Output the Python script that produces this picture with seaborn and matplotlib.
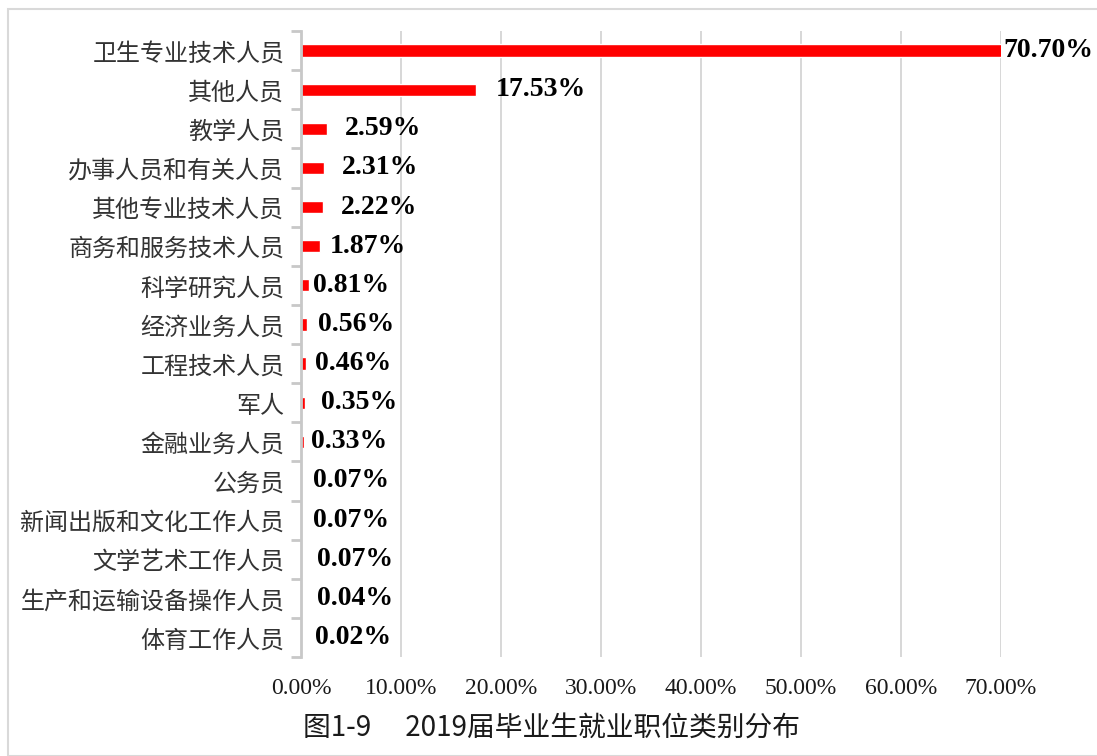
import matplotlib
matplotlib.use('Agg')
from matplotlib import pyplot as plt
from matplotlib.patches import Rectangle
import pandas as pd
import seaborn as sns

# data
categories = ['卫生专业技术人员', '其他人员', '教学人员', '办事人员和有关人员',
              '其他专业技术人员', '商务和服务技术人员', '科学研究人员', '经济业务人员',
              '工程技术人员', '军人', '金融业务人员', '公务员',
              '新闻出版和文化工作人员', '文学艺术工作人员', '生产和运输设备操作人员',
              '体育工作人员']
shares = [70.70, 17.53, 2.59, 2.31, 2.22, 1.87, 0.81, 0.56,
          0.46, 0.35, 0.33, 0.07, 0.07, 0.07, 0.04, 0.02]
xticks = [0, 10, 20, 30, 40, 50, 60, 70]
title = '图1-9\u3000 2019届毕业生就业职位类别分布'

# label nudges (pixels right of the bar end), as placed in the original
label_dx = [2, 19, 18, 17.5, 17.5, 10, 3.5, 11, 9, 16.5, 7, 11, 11, 15, 15.5, 14]

df = pd.DataFrame({'job': categories, 'share': shares})

sns.set_style('white')
plt.rcParams['font.family'] = ['Noto Sans CJK SC', 'DejaVu Sans']

fig = plt.figure(figsize=(10.97, 7.56), dpi=100)
ax = fig.add_axes([301 / 1097, 1 - 657 / 756, 700 / 1097, 626 / 756])

sns.barplot(data=df, x='share', y='job', orient='h', color='#ff0000',
            saturation=1, width=0.31, ax=ax)

ax.set_xlim(0, 70)
ax.set_ylim(len(categories) - 0.5, -0.5)
ax.set_xticks(xticks)
ax.set_xticklabels(['%.2f%%' % t for t in xticks], family='Liberation Serif',
                   fontsize=17, color='#1a1a1a')
ax.tick_params(axis='x', length=0, pad=15)
ax.xaxis.grid(True, color='#d4d4d4', lw=1.3)
ax.set_axisbelow(True)

# category labels at centres, tick marks at boundaries
ax.set_yticks(range(len(categories)))
ax.set_yticklabels(categories, fontsize=17.3, color='#333333')
ax.set_yticks([i - 0.5 for i in range(len(categories) + 1)], minor=True)
ax.tick_params(axis='y', which='major', left=False, length=0, pad=12)
ax.tick_params(axis='y', which='minor', left=True, length=7, width=2,
               color='#c8c8c8')

for side in ['top', 'right', 'bottom']:
    ax.spines[side].set_visible(False)
ax.spines['left'].set_color('#c8c8c8')
ax.spines['left'].set_linewidth(2)
ax.set_xlabel('')
ax.set_ylabel('')

for i, (v, dx) in enumerate(zip(shares, label_dx)):
    ax.annotate('%.2f%%' % v, xy=(min(v, 70), i), xytext=(dx * 0.72, 0),
                textcoords='offset points', ha='left', va='center',
                family='Liberation Serif', fontweight='bold', fontsize=20,
                color='black', annotation_clip=False)

fig.text(303 / 1097, 1 - 729 / 756, title, ha='left', va='center',
         fontsize=20, color='#1a1a1a')

fig.patches.append(Rectangle((8 / 1097, 0), 1.2, 1 - 9 / 756,
                             transform=fig.transFigure, fill=False,
                             edgecolor='#d9d9d9', lw=1.5))

fig.savefig('out.png', dpi=100)
